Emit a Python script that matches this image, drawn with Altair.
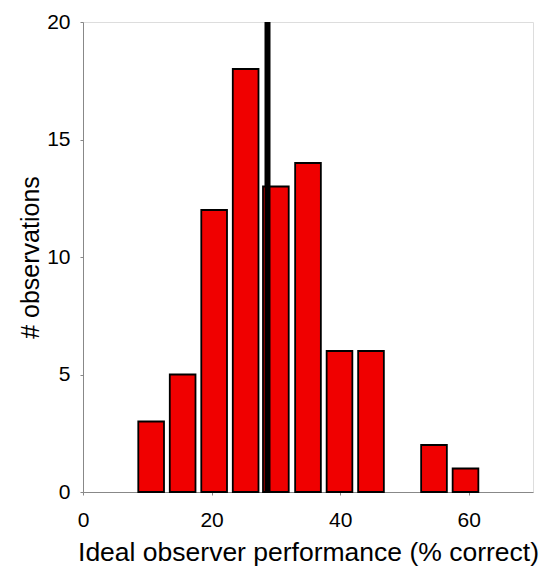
import altair as alt
import pandas as pd

# Histogram of ideal-observer performance across observations
bin_centers = [10.6, 15.5, 20.4, 25.3, 30.0, 35.0, 39.9, 44.8, 54.6, 59.5]
counts = [3, 5, 12, 18, 13, 14, 6, 6, 2, 1]
bar_half_width = 2.0

# Mean performance marker
mean_value = 28.7
mean_span = [0, 20]

x_ticks = [0, 20, 40, 60]
y_ticks = [0, 5, 10, 15, 20]

bars_df = pd.DataFrame({
    "lo": [c - bar_half_width for c in bin_centers],
    "hi": [c + bar_half_width for c in bin_centers],
    "count": counts,
})
mean_df = pd.DataFrame({"x": [mean_value], "y0": [mean_span[0]], "y1": [mean_span[1]]})

FONT = "Liberation Sans"

x_scale = alt.Scale(domain=[0, 70], nice=False, zero=False)
y_scale = alt.Scale(domain=[0, 20], nice=False)

x_axis = alt.Axis(
    title="Ideal observer performance (% correct)",
    values=x_ticks, grid=False, tickSize=3, labelPadding=14, labelFlush=False,
    labelFontSize=21, titleFontSize=26.5, titleFontWeight="normal",
    titleY=68, titleBaseline="alphabetic",
)
y_axis = alt.Axis(
    title="# observations",
    values=y_ticks, grid=False, tickSize=3, labelPadding=10, labelFlush=False,
    labelFontSize=21, titleFontSize=25, titleFontWeight="normal",
    titleX=-45, titleBaseline="alphabetic",
)

bars = alt.Chart(bars_df).mark_bar(
    color="#f00000", stroke="#000000", strokeWidth=1.8
).encode(
    x=alt.X("lo:Q", scale=x_scale, axis=x_axis),
    x2="hi:Q",
    y=alt.Y("count:Q", scale=y_scale, axis=y_axis),
    y2=alt.datum(0),
)

mean_line = alt.Chart(mean_df).mark_rule(color="#000000", strokeWidth=6).encode(
    x=alt.X("x:Q", scale=x_scale),
    y=alt.Y("y0:Q", scale=y_scale),
    y2="y1:Q",
)

chart = (bars + mean_line).properties(
    width=450, height=470,
    autosize=alt.AutoSizeParams(type="none"),
    padding={"left": 83, "top": 22, "right": 16, "bottom": 77},
).configure_view(stroke=None).configure_axis(
    labelFont=FONT, titleFont=FONT,
    labelColor="#000000", titleColor="#000000",
    domainColor="#1a1010", domainWidth=1.5,
    tickColor="#1a1010", tickWidth=1.5,
).configure(background="#ffffff")

chart.save("out.html", embed_options={"renderer": "svg", "actions": False})
